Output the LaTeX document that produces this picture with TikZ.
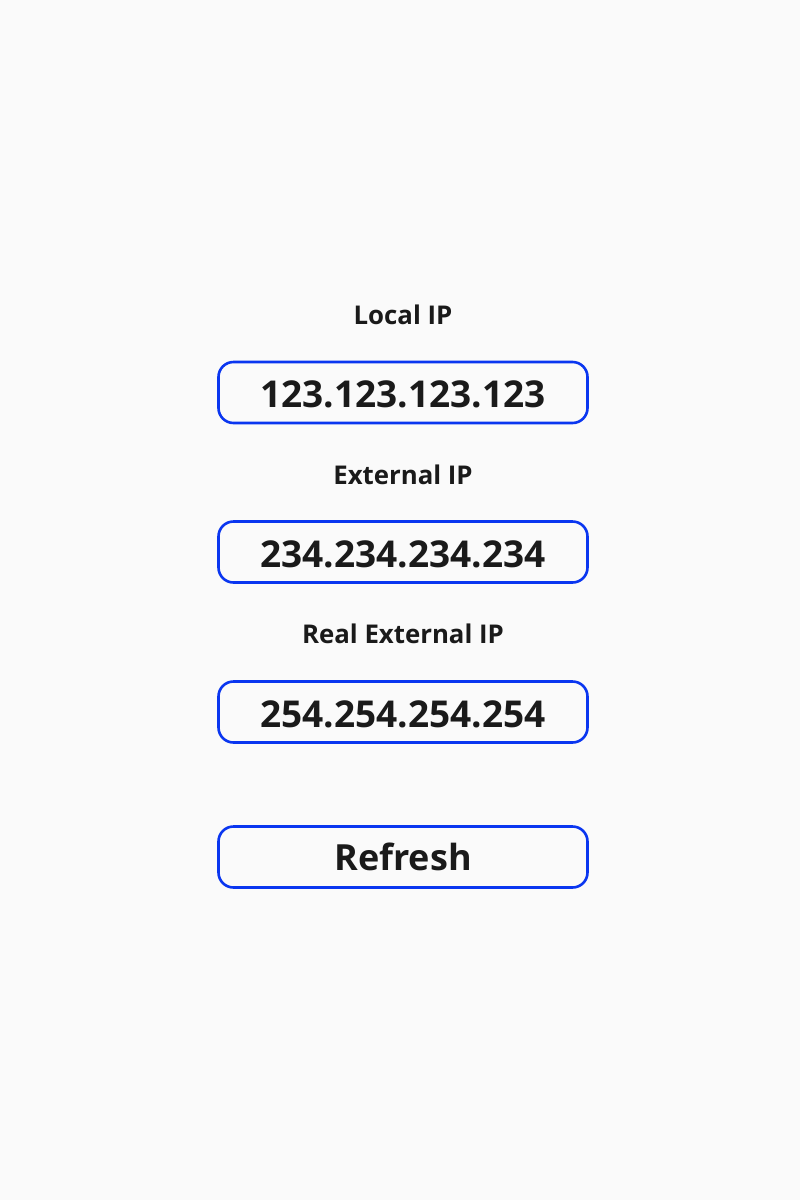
\documentclass[tikz,border=0pt]{standalone}
\usepackage{fontspec}
\setmainfont{Open Sans}
\definecolor{bg}{HTML}{FAFAFA}
\definecolor{bluebd}{HTML}{0A36F0}
\definecolor{ink}{HTML}{1A1A1A}
\begin{document}
\begin{tikzpicture}[x=1pt,y=-1pt,
  field/.style={draw=bluebd, line width=2.6pt, rounded corners=15pt, minimum width=369pt, minimum height=61pt, inner sep=0pt, text=ink, font=\fontsize{37}{40}\selectfont\bfseries},
  ipfield/.style={field, text height=30pt, text depth=0pt},
  caption/.style={text=ink, inner sep=0pt, font=\fontsize{25.8}{28}\selectfont\bfseries}]
\fill[bg] (0,0) rectangle (800,1200);
\useasboundingbox (0,0) rectangle (800,1200);
\node[caption] (l1) at (403,315) {Local IP};
\node[ipfield] (f1) at (403,392.5) {123.123.123.123};
\node[caption] (l2) at (403,475) {External IP};
\node[ipfield] (f2) at (403,552) {234.234.234.234};
\node[caption] (l3) at (403,634) {Real External IP};
\node[ipfield] (f3) at (403,712) {254.254.254.254};
\node[field, font=\fontsize{36}{40}\selectfont\bfseries] (btn) at (403,857) {Refresh};
\end{tikzpicture}
\end{document}
